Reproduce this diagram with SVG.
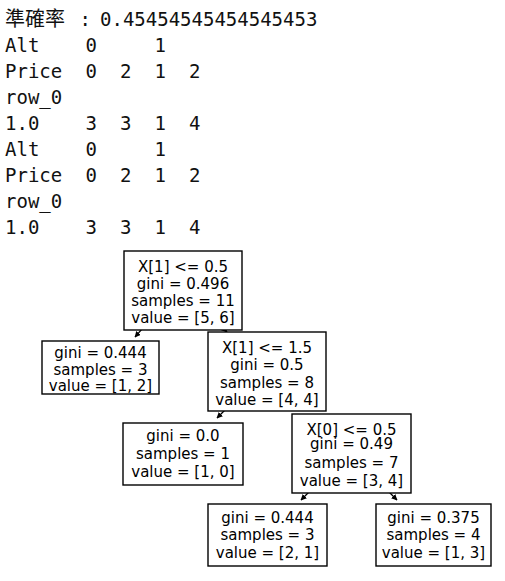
<svg xmlns="http://www.w3.org/2000/svg" width="505" height="581" viewBox="0 0 505 581">
<defs>
<style>
.mono{font-family:"DejaVu Sans Mono","Liberation Mono",monospace;font-size:19px;fill:#111}
.cjk{font-family:"Noto Sans CJK TC","Noto Sans CJK SC",sans-serif;font-size:20px;fill:#111}
.box{fill:#fff;stroke:#000;stroke-width:1.4}
.lbl{font-family:"DejaVu Sans",sans-serif;font-size:15px;fill:#000;text-anchor:middle}
.edge{stroke:#000;stroke-width:1.2;fill:none;marker-end:url(#ah)}
</style>
<marker id="ah" viewBox="0 0 10 10" refX="9" refY="5" markerWidth="6" markerHeight="6" orient="auto" markerUnits="userSpaceOnUse">
<path d="M0,0 L10,5 L0,10 z" fill="#000"/>
</marker>
</defs>
<rect width="505" height="581" fill="#fff"/>
<g id="console">
<text class="cjk" x="5" y="26">準確率</text>
<text class="mono" x="79.5" y="26">:</text>
<text class="mono" x="100" y="26">0.45454545454545453</text>
<text class="mono" y="52"><tspan x="5">Alt</tspan><tspan x="85.5">0</tspan><tspan x="154.5">1</tspan></text>
<text class="mono" y="78"><tspan x="5">Price</tspan><tspan x="85.5">0</tspan><tspan x="120">2</tspan><tspan x="154.5">1</tspan><tspan x="189">2</tspan></text>
<text class="mono" x="5" y="104">row_0</text>
<text class="mono" y="130"><tspan x="5">1.0</tspan><tspan x="85.5">3</tspan><tspan x="120">3</tspan><tspan x="154.5">1</tspan><tspan x="189">4</tspan></text>
<text class="mono" y="156"><tspan x="5">Alt</tspan><tspan x="85.5">0</tspan><tspan x="154.5">1</tspan></text>
<text class="mono" y="182"><tspan x="5">Price</tspan><tspan x="85.5">0</tspan><tspan x="120">2</tspan><tspan x="154.5">1</tspan><tspan x="189">2</tspan></text>
<text class="mono" x="5" y="208">row_0</text>
<text class="mono" y="234"><tspan x="5">1.0</tspan><tspan x="85.5">3</tspan><tspan x="120">3</tspan><tspan x="154.5">1</tspan><tspan x="189">4</tspan></text>
</g>
<g id="connectors">
<line class="edge" x1="142" y1="329" x2="135" y2="337"/>
<line class="edge" x1="224" y1="329" x2="227" y2="332"/>
<line class="edge" x1="225" y1="410" x2="217" y2="418"/>
<line class="edge" x1="309" y1="492" x2="301" y2="500"/>
<line class="edge" x1="389" y1="492" x2="397" y2="500"/>
</g>
<g id="n0">
<rect class="box" x="124" y="251" width="118" height="79"/>
<text class="lbl" x="183" y="272">X[1] &lt;= 0.5</text>
<text class="lbl" x="183" y="289">gini = 0.496</text>
<text class="lbl" x="183" y="306">samples = 11</text>
<text class="lbl" x="183" y="323">value = [5, 6]</text>
</g>
<g id="n1">
<rect class="box" x="42" y="341" width="117" height="53"/>
<text class="lbl" x="100.5" y="358">gini = 0.444</text>
<text class="lbl" x="100.5" y="375">samples = 3</text>
<text class="lbl" x="100.5" y="391">value = [1, 2]</text>
</g>
<g id="n2">
<rect class="box" x="208" y="332" width="118" height="79"/>
<text class="lbl" x="267" y="353">X[1] &lt;= 1.5</text>
<text class="lbl" x="267" y="370">gini = 0.5</text>
<text class="lbl" x="267" y="388">samples = 8</text>
<text class="lbl" x="267" y="405">value = [4, 4]</text>
</g>
<g id="n3">
<rect class="box" x="123" y="423" width="120" height="62"/>
<text class="lbl" x="183" y="441">gini = 0.0</text>
<text class="lbl" x="183" y="459">samples = 1</text>
<text class="lbl" x="183" y="477">value = [1, 0]</text>
</g>
<g id="n4">
<rect class="box" x="292" y="414" width="119" height="79"/>
<text class="lbl" x="351.5" y="435">X[0] &lt;= 0.5</text>
<text class="lbl" x="351.5" y="449">gini = 0.49</text>
<text class="lbl" x="351.5" y="468">samples = 7</text>
<text class="lbl" x="351.5" y="486">value = [3, 4]</text>
</g>
<g id="n5">
<rect class="box" x="208" y="504" width="119" height="62"/>
<text class="lbl" x="267.5" y="523">gini = 0.444</text>
<text class="lbl" x="267.5" y="540">samples = 3</text>
<text class="lbl" x="267.5" y="558">value = [2, 1]</text>
</g>
<g id="n6">
<rect class="box" x="376" y="504" width="115" height="62"/>
<text class="lbl" x="433.5" y="523">gini = 0.375</text>
<text class="lbl" x="433.5" y="540">samples = 4</text>
<text class="lbl" x="433.5" y="558">value = [1, 3]</text>
</g>
</svg>
